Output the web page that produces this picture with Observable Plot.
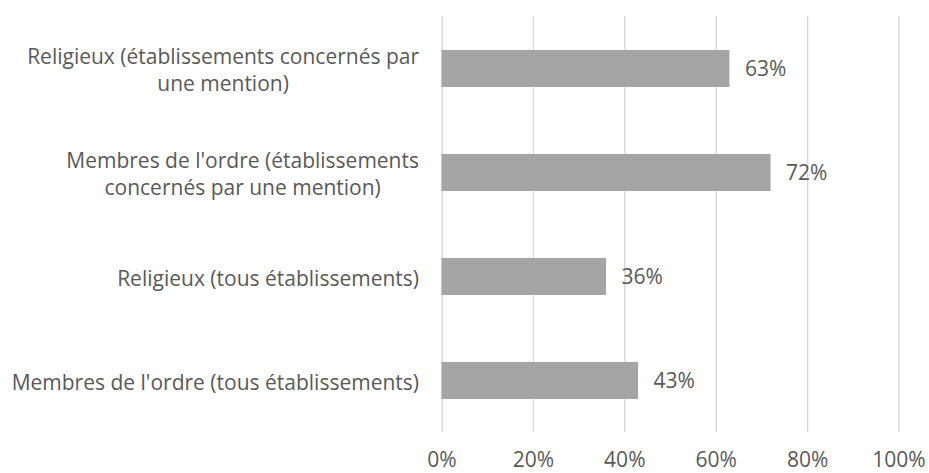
<!DOCTYPE html>
<html>
<head>
<meta charset="utf-8">
<script src="https://cdn.jsdelivr.net/npm/d3@7"></script>
<script src="https://cdn.jsdelivr.net/npm/@observablehq/plot@0.6"></script>
<style>
  body { margin: 0; background: white; }
  #chart { width: 929px; height: 473px; }
</style>
</head>
<body>
<div id="chart"></div>
<script>
const categories = [
  "Religieux (établissements concernés par\nune mention)",
  "Membres de l'ordre (établissements\nconcernés par une mention)",
  "Religieux (tous établissements)",
  "Membres de l'ordre (tous établissements)"
];
const values = [0.63, 0.72, 0.36, 0.43];
const xTicks = [0, 0.2, 0.4, 0.6, 0.8, 1.0];

const data = categories.map((c, i) => ({cat: c, value: values[i]}));

const FONT = "Open Sans";
const FS = 21;
const textColor = "#595959";

const ctx = document.createElement("canvas").getContext("2d");
ctx.font = `${FS}px "${FONT}"`;
function blockWidth(s) {
  return Math.max(...s.split("\n").map(l => ctx.measureText(l).width));
}

const labelMarks = categories.map(c =>
  Plot.text([c], {
    y: d => d,
    frameAnchor: "left",
    textAnchor: "middle",
    lineHeight: 1.27,
    dx: -(23 + blockWidth(c) / 2),
    fill: textColor,
    fontSize: FS
  })
);

const chart = Plot.plot({
  width: 929,
  height: 473,
  marginLeft: 441.5,
  marginRight: 30.5,
  marginTop: 16,
  marginBottom: 41,
  style: {fontFamily: `"${FONT}"`, fontSize: FS + "px", color: textColor, background: "white"},
  x: {domain: [0, 1], axis: null},
  y: {domain: categories, paddingInner: 0.647, paddingOuter: 0.3235, axis: null},
  marks: [
    Plot.ruleX(xTicks, {x: d => d, stroke: "#d9d9d9", strokeWidth: 1.5}),
    Plot.barX(data, {x: "value", y: "cat", fill: "#a5a5a5"}),
    Plot.text(data, {
      x: "value", y: "cat",
      text: d => d3.format(".0%")(d.value),
      dx: 15, textAnchor: "start", fill: textColor, fontSize: FS
    }),
    Plot.axisX(xTicks, {
      tickFormat: d3.format(".0%"),
      tickSize: 0,
      tickPadding: 20,
      fill: textColor,
      fontSize: FS,
      label: null
    }),
    ...labelMarks
  ]
});

document.getElementById("chart").appendChild(chart);
</script>
</body>
</html>
